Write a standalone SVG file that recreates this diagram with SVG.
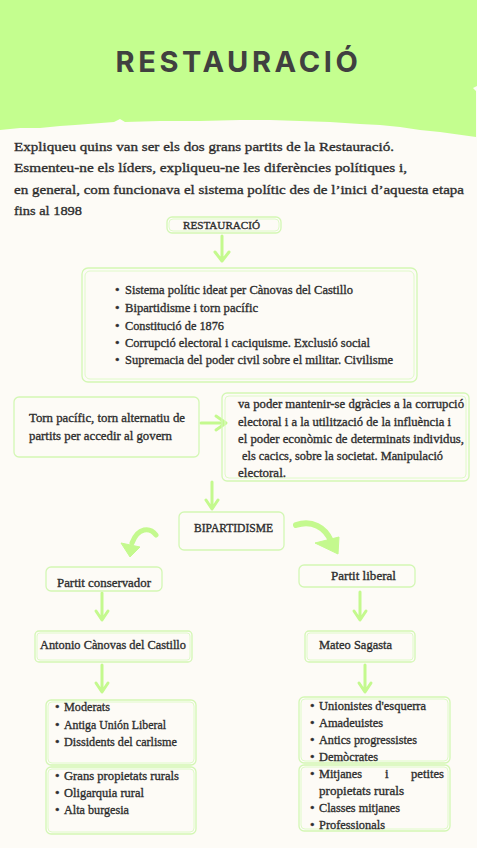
<svg xmlns="http://www.w3.org/2000/svg" width="477" height="848" viewBox="0 0 477 848">
<defs>
<style>
.t{font-family:"Liberation Serif","DejaVu Serif",serif;fill:#2e2e2e;stroke:#2e2e2e;stroke-width:0.35;}
.b{font-size:13px;}
.q{font-size:13.5px;}
.bo{fill:none;stroke:#d3f7b4;stroke-width:1.3;}
.bi{fill:none;stroke:#dffac8;stroke-width:1;}
.ar{fill:none;stroke:#c4f98e;stroke-width:3;stroke-linecap:round;stroke-linejoin:round;}
.ac{fill:none;stroke:#c4f98e;stroke-linecap:round;}
.af{fill:#c4f98e;stroke:#c4f98e;stroke-width:1;stroke-linejoin:round;}
</style>
</defs>
<rect x="0" y="0" width="477" height="848" fill="#fdfbf6"/>
<path d="M0,0 H477 V86 L473,88 L476,91 V137 L440,132 L420,130 L400,127 L380,125 L360,124 L330,122 L300,121 L270,120 L240,120 L200,121 L160,121 L125,122 L120,119 L114,122 L75,125 L60,126 L40,128 L20,128 L0,130 Z" fill="#c4fe8f"/>
<text x="238.5" y="72" text-anchor="middle" font-family="Inter,'Open Sans',sans-serif" font-weight="700" font-size="29" letter-spacing="3.6" fill="#404040">RESTAURACIÓ</text>

<g id="question" class="t q">
<text x="14" y="151" textLength="380" lengthAdjust="spacingAndGlyphs">Expliqueu quins van ser els dos grans partits de la Restauració.</text>
<text x="14" y="172" textLength="393" lengthAdjust="spacingAndGlyphs">Esmenteu-ne els líders, expliqueu-ne les diferències polítiques i,</text>
<text x="14" y="194" textLength="450" lengthAdjust="spacingAndGlyphs">en general, com funcionava el sistema polític des de l’inici d’aquesta etapa</text>
<text x="14" y="215" textLength="68" lengthAdjust="spacingAndGlyphs">fins al 1898</text>
</g>

<g id="connectors">
<path class="ar" d="M222,236 V260 M215,252 L222,261 L229,252"/>
<path class="ar" d="M201,423 H225 M216,416 L226,423 L216,430"/>
<path class="ar" d="M212,482 V508 M206,500 L212,509 L218,500"/>
<path class="ac" stroke-width="5" d="M156,535 C150,527 138,527 132,543"/>
<path class="af" d="M121,543 L140,547 L130,557 Z"/>
<path class="ac" stroke-width="6" d="M296,525 C312,520 325,527 331,541"/>
<path class="af" d="M315,543 L339,537 L338,554 Z"/>
<path class="ar" d="M102,593 V619 M96,611 L102,620 L108,611"/>
<path class="ar" d="M360,592 V619 M354,611 L360,620 L366,611"/>
<path class="ar" d="M102,665 V691 M96,683 L102,692 L108,683"/>
<path class="ar" d="M365,665 V691 M359,683 L365,692 L371,683"/>
</g>

<g id="n-restauracio">
<rect class="bo" x="167" y="217" width="114" height="16" rx="5"/>
<rect class="bi" x="169" y="219" width="110" height="12" rx="4"/>
<text class="t" x="183" y="229" font-size="11" textLength="77" lengthAdjust="spacingAndGlyphs">RESTAURACIÓ</text>
</g>

<g id="n-sistema">
<rect class="bo" x="82" y="268" width="335" height="114" rx="6"/>
<rect class="bi" x="85" y="271" width="329" height="108" rx="5"/>
<g class="t b">
<text x="115" y="294">•</text><text x="125" y="294" textLength="228" lengthAdjust="spacingAndGlyphs">Sistema polític ideat per Cànovas del Castillo</text>
<text x="115" y="312">•</text><text x="125" y="312" textLength="133" lengthAdjust="spacingAndGlyphs">Bipartidisme i torn pacífic</text>
<text x="115" y="330">•</text><text x="125" y="330" textLength="99" lengthAdjust="spacingAndGlyphs">Constitució de 1876</text>
<text x="115" y="347">•</text><text x="125" y="347" textLength="245" lengthAdjust="spacingAndGlyphs">Corrupció electoral i caciquisme. Exclusió social</text>
<text x="115" y="364">•</text><text x="125" y="364" textLength="268" lengthAdjust="spacingAndGlyphs">Supremacia del poder civil sobre el militar. Civilisme</text>
</g>
</g>

<g id="n-torn">
<rect class="bo" x="14" y="397" width="185" height="60" rx="5"/>
<text class="t b" x="29" y="422" textLength="156" lengthAdjust="spacingAndGlyphs">Torn pacífic, torn alternatiu de</text>
<text class="t b" x="29" y="440" textLength="143" lengthAdjust="spacingAndGlyphs">partits per accedir al govern</text>
</g>

<g id="n-corrupcio">
<rect class="bo" x="222" y="393" width="247" height="88" rx="5"/>
<rect class="bi" x="225" y="396" width="241" height="82" rx="4"/>
<g class="t b">
<text x="238" y="408" textLength="226" lengthAdjust="spacingAndGlyphs">va poder mantenir-se dgràcies a la corrupció</text>
<text x="238" y="426" textLength="213" lengthAdjust="spacingAndGlyphs">electoral i a la utilització de la influència i</text>
<text x="238" y="443" textLength="226" lengthAdjust="spacingAndGlyphs">el poder econòmic de determinats individus,</text>
<text x="242" y="460" textLength="201" lengthAdjust="spacingAndGlyphs">els cacics, sobre la societat. Manipulació</text>
<text x="238" y="477" textLength="48" lengthAdjust="spacingAndGlyphs">electoral.</text>
</g>
</g>

<g id="n-bipartidisme">
<rect class="bo" x="179" y="512" width="105" height="38" rx="5"/>
<text class="t" x="194" y="532" font-size="11.5" textLength="79" lengthAdjust="spacingAndGlyphs">BIPARTIDISME</text>
</g>

<g id="n-conservador">
<rect class="bo" x="46" y="567" width="116" height="24" rx="5"/>
<text class="t b" x="57" y="587" textLength="94" lengthAdjust="spacingAndGlyphs">Partit conservador</text>
</g>

<g id="n-liberal">
<rect class="bo" x="299" y="565" width="116" height="22" rx="5"/>
<text class="t b" x="331" y="580" textLength="65" lengthAdjust="spacingAndGlyphs">Partit liberal</text>
</g>

<g id="n-canovas">
<rect class="bo" x="35" y="631" width="157" height="31" rx="4"/>
<rect class="bi" x="37" y="633" width="153" height="27" rx="3"/>
<text class="t b" x="40" y="649" textLength="146" lengthAdjust="spacingAndGlyphs">Antonio Cànovas del Castillo</text>
</g>

<g id="n-sagasta">
<rect class="bo" x="305" y="631" width="110" height="31" rx="4"/>
<rect class="bi" x="307" y="633" width="106" height="27" rx="3"/>
<text class="t b" x="319" y="649" textLength="73" lengthAdjust="spacingAndGlyphs">Mateo Sagasta</text>
</g>

<g id="n-cons-grups">
<rect class="bo" x="46" y="700" width="150" height="65" rx="5"/>
<rect class="bi" x="48" y="702" width="146" height="61" rx="4"/>
<g class="t b">
<text x="55" y="711">•</text><text x="64" y="711" textLength="46" lengthAdjust="spacingAndGlyphs">Moderats</text>
<text x="55" y="729">•</text><text x="64" y="729" textLength="102" lengthAdjust="spacingAndGlyphs">Antiga Unión Liberal</text>
<text x="55" y="746">•</text><text x="64" y="746" textLength="113" lengthAdjust="spacingAndGlyphs">Dissidents del carlisme</text>
</g>
</g>

<g id="n-cons-base">
<rect class="bo" x="46" y="767" width="150" height="67" rx="5"/>
<rect class="bi" x="48" y="769" width="146" height="63" rx="4"/>
<g class="t b">
<text x="55" y="780">•</text><text x="64" y="780" textLength="115" lengthAdjust="spacingAndGlyphs">Grans propietats rurals</text>
<text x="55" y="797">•</text><text x="64" y="797" textLength="80" lengthAdjust="spacingAndGlyphs">Oligarquia rural</text>
<text x="55" y="814">•</text><text x="64" y="814" textLength="65" lengthAdjust="spacingAndGlyphs">Alta burgesia</text>
</g>
</g>

<g id="n-lib-grups">
<rect class="bo" x="299" y="697" width="151" height="66" rx="5"/>
<rect class="bi" x="301" y="699" width="147" height="62" rx="4"/>
<g class="t b">
<text x="310" y="710">•</text><text x="319" y="710" textLength="107" lengthAdjust="spacingAndGlyphs">Unionistes d'esquerra</text>
<text x="310" y="727">•</text><text x="319" y="727" textLength="64" lengthAdjust="spacingAndGlyphs">Amadeuistes</text>
<text x="310" y="744">•</text><text x="319" y="744" textLength="98" lengthAdjust="spacingAndGlyphs">Antics progressistes</text>
<text x="310" y="761">•</text><text x="319" y="761" textLength="59" lengthAdjust="spacingAndGlyphs">Demòcrates</text>
</g>
</g>

<g id="n-lib-base">
<rect class="bo" x="299" y="765" width="151" height="66" rx="5"/>
<rect class="bi" x="301" y="767" width="147" height="62" rx="4"/>
<g class="t b">
<text x="310" y="778">•</text><text x="319" y="778" textLength="43" lengthAdjust="spacingAndGlyphs">Mitjanes</text><text x="385" y="778">i</text><text x="411" y="778" textLength="33" lengthAdjust="spacingAndGlyphs">petites</text>
<text x="319" y="795" textLength="85" lengthAdjust="spacingAndGlyphs">propietats  rurals</text>
<text x="310" y="812">•</text><text x="319" y="812" textLength="81" lengthAdjust="spacingAndGlyphs">Classes mitjanes</text>
<text x="310" y="829">•</text><text x="319" y="829" textLength="66" lengthAdjust="spacingAndGlyphs">Professionals</text>
</g>
</g>
</svg>
